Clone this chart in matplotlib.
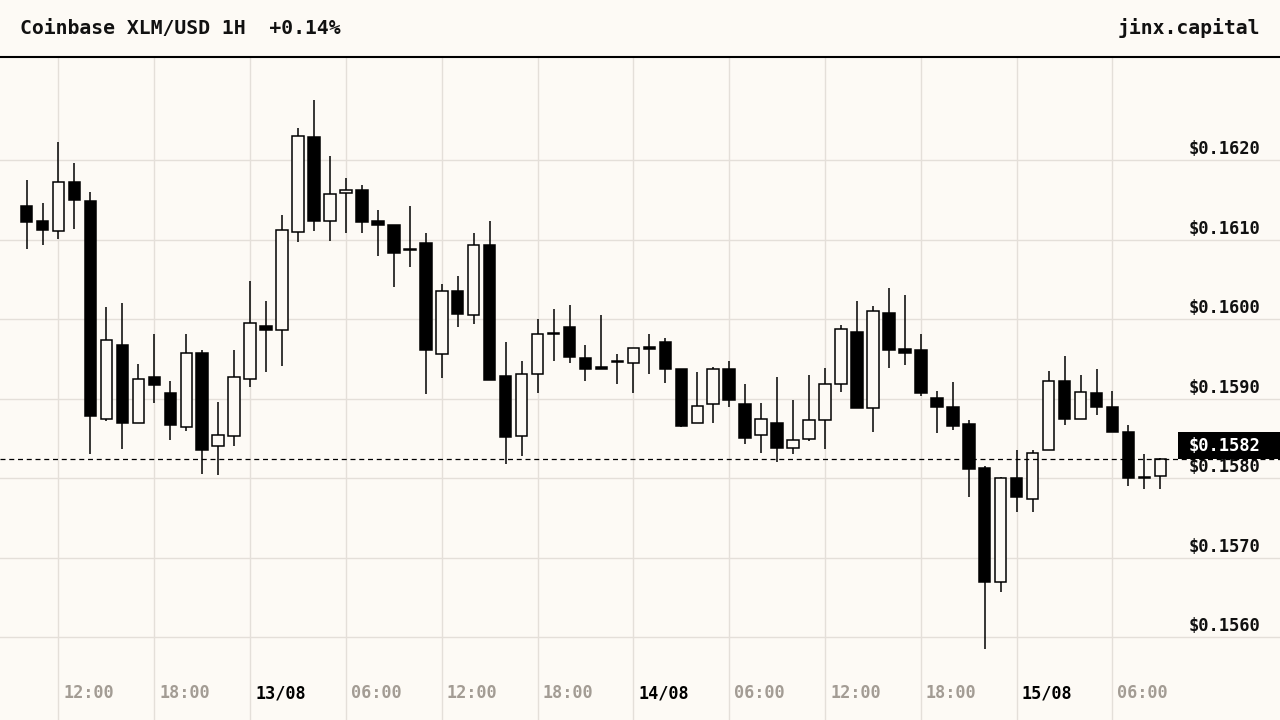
import matplotlib
matplotlib.use("Agg")
import matplotlib.pyplot as plt
from matplotlib.patches import Rectangle
from matplotlib.transforms import offset_copy, blended_transform_factory
import pandas as pd

# hourly candles, Coinbase XLM/USD, first one 12/08 10:00
start = "2025-08-12 10:00"
opens = [0.16142, 0.16124, 0.16111, 0.16173, 0.16149, 0.15875, 0.15968, 0.15869,
         0.15927, 0.15907, 0.15864, 0.15958, 0.15840, 0.15853, 0.15925, 0.15991,
         0.15987, 0.16110, 0.16229, 0.16124, 0.16159, 0.16163, 0.16123, 0.16118,
         0.16089, 0.16096, 0.15956, 0.16035, 0.16005, 0.16093, 0.15929, 0.15853,
         0.15931, 0.15983, 0.15990, 0.15951, 0.15940, 0.15946, 0.15945, 0.15965,
         0.15971, 0.15937, 0.15870, 0.15894, 0.15937, 0.15894, 0.15854, 0.15870,
         0.15838, 0.15849, 0.15873, 0.15918, 0.15984, 0.15888, 0.16008, 0.15963,
         0.15962, 0.15901, 0.15890, 0.15868, 0.15813, 0.15669, 0.15800, 0.15774,
         0.15835, 0.15922, 0.15875, 0.15907, 0.15890, 0.15858, 0.15802, 0.15803]
highs = [0.16175, 0.16146, 0.16223, 0.16197, 0.16160, 0.16015, 0.16021, 0.15944,
         0.15981, 0.15923, 0.15981, 0.15962, 0.15896, 0.15962, 0.16048, 0.16023,
         0.16131, 0.16241, 0.16276, 0.16205, 0.16178, 0.16169, 0.16138, 0.16118,
         0.16142, 0.16108, 0.16045, 0.16055, 0.16108, 0.16123, 0.15971, 0.15948,
         0.16000, 0.16013, 0.16018, 0.15968, 0.16006, 0.15956, 0.15964, 0.15982,
         0.15976, 0.15937, 0.15934, 0.15940, 0.15948, 0.15918, 0.15895, 0.15928,
         0.15899, 0.15930, 0.15939, 0.15993, 0.16023, 0.16017, 0.16039, 0.16030,
         0.15981, 0.15910, 0.15921, 0.15873, 0.15816, 0.15802, 0.15835, 0.15835,
         0.15935, 0.15954, 0.15930, 0.15937, 0.15910, 0.15867, 0.15830, 0.15825]
lows = [0.16089, 0.16093, 0.16101, 0.16114, 0.15830, 0.15872, 0.15837, 0.15869,
        0.15895, 0.15848, 0.15860, 0.15805, 0.15804, 0.15841, 0.15915, 0.15934,
        0.15941, 0.16097, 0.16111, 0.16098, 0.16109, 0.16109, 0.16079, 0.16040,
        0.16066, 0.15906, 0.15926, 0.15990, 0.15994, 0.15924, 0.15818, 0.15828,
        0.15907, 0.15947, 0.15945, 0.15922, 0.15938, 0.15918, 0.15907, 0.15931,
        0.15920, 0.15865, 0.15870, 0.15870, 0.15890, 0.15843, 0.15832, 0.15820,
        0.15831, 0.15847, 0.15837, 0.15909, 0.15889, 0.15858, 0.15939, 0.15943,
        0.15903, 0.15857, 0.15861, 0.15776, 0.15585, 0.15657, 0.15758, 0.15758,
        0.15835, 0.15867, 0.15874, 0.15879, 0.15858, 0.15790, 0.15786, 0.15787]
closes = [0.16122, 0.16112, 0.16173, 0.16150, 0.15878, 0.15974, 0.15870, 0.15925,
          0.15917, 0.15867, 0.15958, 0.15836, 0.15854, 0.15927, 0.15995, 0.15987,
          0.16112, 0.16230, 0.16124, 0.16157, 0.16163, 0.16122, 0.16118, 0.16083,
          0.16087, 0.15961, 0.16036, 0.16007, 0.16093, 0.15924, 0.15852, 0.15931,
          0.15981, 0.15981, 0.15952, 0.15938, 0.15938, 0.15947, 0.15964, 0.15963,
          0.15937, 0.15866, 0.15891, 0.15937, 0.15898, 0.15851, 0.15875, 0.15838,
          0.15848, 0.15873, 0.15918, 0.15988, 0.15889, 0.16010, 0.15962, 0.15957,
          0.15907, 0.15890, 0.15866, 0.15812, 0.15670, 0.15800, 0.15777, 0.15832,
          0.15922, 0.15875, 0.15908, 0.15890, 0.15858, 0.15800, 0.15801, 0.15824]
price_ticks = [0.1560, 0.1570, 0.1580, 0.1590, 0.1600, 0.1610, 0.1620]
title = "Coinbase XLM/USD 1H  +0.14%"
brand = "jinx.capital"

bg = "#fdfaf5"
grid_c = "#e4dfd9"
muted = "#a39c94"
mono = "DejaVu Sans Mono"
px_per_price = 79500  # pixels per 1.0 of price, used for the tag box

times = pd.date_range(start, periods=len(closes), freq="h")

fig = plt.figure(figsize=(12.8, 7.2), dpi=100, facecolor=bg)
ax = fig.add_axes([0, 0, 1, 663 / 720])
ax.set_facecolor(bg)

ax.set_xlim(-1.663, 78.49)
ax.set_ylim(0.154960, 0.163299)

for s in ["left", "right", "bottom"]:
    ax.spines[s].set_visible(False)
ax.spines["top"].set_linewidth(1.5)
ax.spines["top"].set_color("black")
ax.set_xticks([])
ax.set_yticks([])

# horizontal grid + price labels
for p in price_ticks:
    ax.axhline(p, color=grid_c, lw=1.0, zorder=0)
    tr = offset_copy(ax.get_yaxis_transform(), fig=fig, x=-20, y=11, units="dots")
    ax.text(1, p, f"${p:.4f}", transform=tr, ha="right", va="center",
            family=mono, fontweight="bold", fontsize=12.3, color="#111111")

# vertical grid + time labels
xlab_tr = offset_copy(blended_transform_factory(ax.transData, ax.transAxes),
                      fig=fig, x=5, y=0, units="dots")
for i, t in enumerate(times):
    if t.hour % 6 != 0:
        continue
    ax.axvline(i, color=grid_c, lw=1.0, zorder=0)
    if t.hour == 0:
        lab, col = t.strftime("%d/%m"), "black"
    else:
        lab, col = t.strftime("%H:%M"), muted
    ax.text(i, 27 / 663, lab, transform=xlab_tr, ha="left", va="center",
            family=mono, fontweight="bold", fontsize=12.2, color=col)

# candles
w = 0.72
for i in range(len(closes)):
    o, h, l, c = opens[i], highs[i], lows[i], closes[i]
    ax.vlines(i, l, h, color="black", lw=1.1, zorder=2)
    up = c >= o
    ax.add_patch(Rectangle((i - w / 2, min(o, c)), w, abs(c - o),
                           facecolor=bg if up else "black", edgecolor="black",
                           lw=1.1, zorder=3))

# last price line and tag
last = closes[-1]
ax.axhline(last, color="black", lw=0.9, ls=(0, (4, 3)), zorder=4)
yt = blended_transform_factory(ax.transAxes, ax.transData)
ax.add_patch(Rectangle((1178 / 1280, last), 102 / 1280, 27 / px_per_price, transform=yt,
                       facecolor="black", edgecolor="none", zorder=5, clip_on=False))
ax.text(1260 / 1280, last + 13.5 / px_per_price, f"${last:.4f}", transform=yt,
        ha="right", va="center", family=mono, fontweight="bold",
        fontsize=12.3, color="white", zorder=6)

# header
fig.text(20 / 1280, 1 - 28 / 720, title, ha="left", va="center",
         family=mono, fontweight="bold", fontsize=14.2, color="#111111")
fig.text(1260 / 1280, 1 - 28 / 720, brand, ha="right", va="center",
         family=mono, fontweight="bold", fontsize=14.2, color="#111111")

fig.savefig("out.png", dpi=100, facecolor=bg)
